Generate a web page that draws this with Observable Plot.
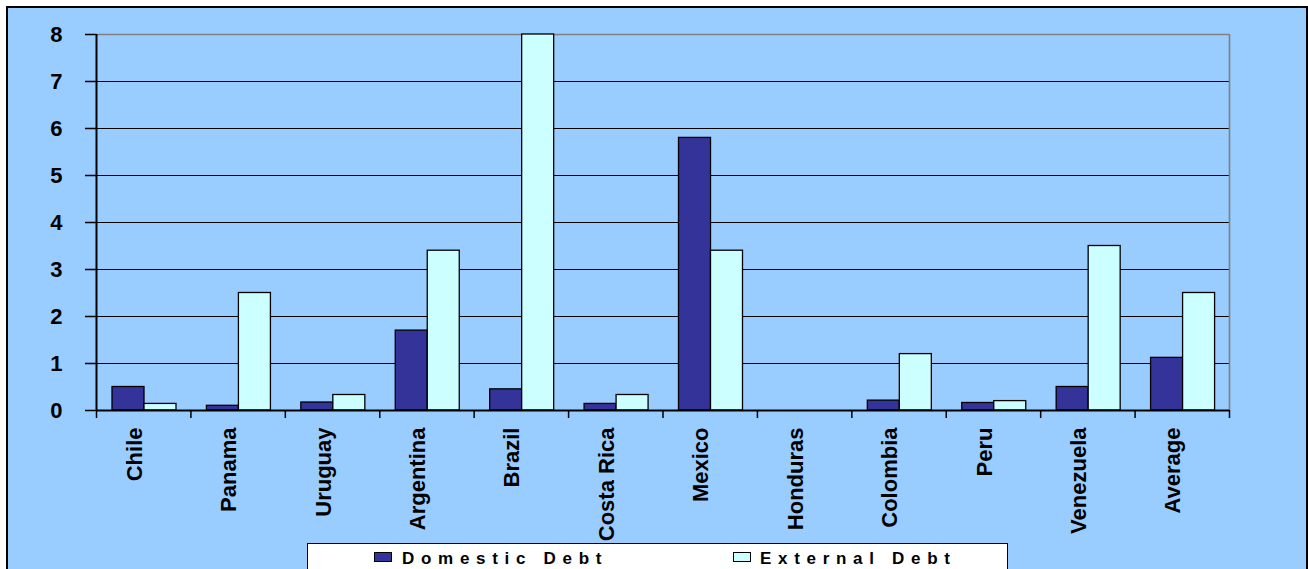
<!DOCTYPE html>
<html><head><meta charset="utf-8">
<script src="https://cdn.jsdelivr.net/npm/d3@7"></script>
<script src="https://cdn.jsdelivr.net/npm/@observablehq/plot@0.6"></script>
<style>
html,body{margin:0;padding:0;overflow:hidden;width:1308px;height:569px;background:#fff;}
#frame{position:absolute;left:6px;top:6px;width:1302px;height:700px;box-sizing:border-box;border:2px solid #000;background:#99CCFF;}
#chart{position:absolute;left:0;top:0;}
#legend{position:absolute;left:307px;top:543px;width:701px;height:60px;box-sizing:border-box;border:1.5px solid #000;background:#fff;font-family:"Liberation Sans",Arial,sans-serif;font-weight:bold;font-size:17px;letter-spacing:6.7px;color:#000;}
.sw{position:absolute;top:8px;width:18px;height:10px;border:1.3px solid #000;box-sizing:border-box;}
.lt{position:absolute;top:6px;line-height:17px;white-space:nowrap;}
</style></head><body>
<div id="frame"></div>
<div id="chart"></div>
<div id="legend"></div>
<script>
const countries = ["Chile","Panama","Uruguay","Argentina","Brazil","Costa Rica","Mexico","Honduras","Colombia","Peru","Venezuela","Average"];
const domesticDebt = [0.50,0.10,0.17,1.70,0.45,0.14,5.80,0,0.21,0.16,0.50,1.12];
const externalDebt = [0.14,2.50,0.33,3.40,8.00,0.33,3.40,0,1.20,0.20,3.50,2.50];
const yTicks = [0,1,2,3,4,5,6,7,8];
const seriesNames = ["Domestic Debt","External Debt"];
const seriesColors = ["#333399","#CCFFFF"];

const W = 1308, H = 540, mL = 96, mR = 79, mT = 34, mB = 130;
const bw = (W - mL - mR) / countries.length;
const domesticRows = countries.map((c, i) => ({country: c, value: domesticDebt[i]}));
const externalRows = countries.map((c, i) => ({country: c, value: externalDebt[i]}));
const font = "'Liberation Sans', Arial, sans-serif";

const chart = Plot.plot({
  width: W, height: H,
  marginLeft: mL, marginRight: mR, marginTop: mT, marginBottom: mB,
  style: {background: "transparent", fontFamily: font, fontWeight: "bold", fontSize: "22px", overflow: "visible", color: "#000"},
  x: {domain: countries, padding: 0, round: false, label: null},
  y: {domain: [0, 8], label: null},
  marks: [
    Plot.ruleY(yTicks.filter(d => d > 0 && d < 8), {stroke: "#000", strokeWidth: 1.2}),
    Plot.ruleY([8], {stroke: "#808080", strokeWidth: 1.6}),
    Plot.ruleX([countries[countries.length - 1]], {dx: bw / 2, stroke: "#808080", strokeWidth: 1.6}),
    Plot.barY(domesticRows, {x: "country", y: "value", fill: seriesColors[0], stroke: "#000", strokeWidth: 1.3, insetLeft: 16, insetRight: bw - 48}),
    Plot.barY(externalRows, {x: "country", y: "value", fill: seriesColors[1], stroke: "#000", strokeWidth: 1.3, insetLeft: 48, insetRight: bw - 80}),
    Plot.ruleY([0], {stroke: "#000", strokeWidth: 2}),
    Plot.ruleX([countries[0]], {dx: -bw / 2, stroke: "#000", strokeWidth: 2}),
    Plot.ruleX(countries, {x: d => d, y1: 0, y2: 0, insetBottom: -8, dx: -bw / 2, stroke: "#000", strokeWidth: 1.5}),
    Plot.ruleX([countries[countries.length - 1]], {y1: 0, y2: 0, insetBottom: -8, dx: bw / 2, stroke: "#000", strokeWidth: 1.5}),
    Plot.axisY({ticks: yTicks, tickSize: 11, tickPadding: 23, tickFormat: d => String(d), stroke: "#000", strokeWidth: 1.5, fontSize: 22, fontWeight: "bold", fill: "#000"}),
    Plot.axisX({tickRotate: -90, tickSize: 0, tickPadding: 17, dx: -9, fontSize: 22, fontWeight: "bold", fill: "#000"})
  ]
});
document.getElementById("chart").appendChild(chart);

const legend = document.getElementById("legend");
const swX = [66, 425], txX = [94, 452];
seriesNames.forEach((name, i) => {
  const sw = document.createElement("div");
  sw.className = "sw";
  sw.style.left = swX[i] + "px";
  sw.style.background = seriesColors[i];
  legend.appendChild(sw);
  const t = document.createElement("div");
  t.className = "lt";
  t.style.left = txX[i] + "px";
  t.textContent = name;
  legend.appendChild(t);
});
</script>
</body></html>
